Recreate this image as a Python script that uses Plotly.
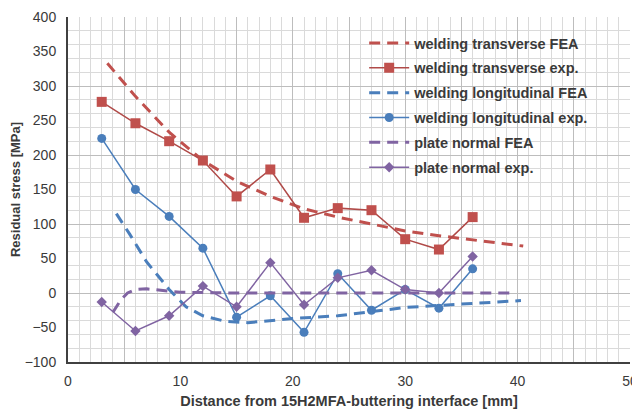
import plotly.graph_objects as go

# ---- data ----
x_exp = [3, 6, 9, 12, 15, 18, 21, 24, 27, 30, 33, 36]
trans_exp = [277, 246, 220, 192, 140, 179, 109, 123, 120, 78, 63, 110]
long_exp = [224, 150, 111, 65, -35, -4, -57, 28, -25, 5, -22, 35]
plate_exp = [-13, -55, -33, 10, -20, 44, -17, 22, 33, 5, 0, 53]

trans_fea_x = [3.5, 6, 9, 12, 15, 18, 21, 24, 27, 30, 33, 36, 40.5]
trans_fea_y = [333, 285, 233, 192, 162, 140, 122, 110, 100, 90, 83, 77, 68]

long_fea_x = [4.3, 5.5, 7, 9, 10.5, 12, 14, 16, 20, 24, 27, 30, 33, 36, 40.3]
long_fea_y = [115, 85, 45, 5, -20, -33, -41, -43, -37, -33, -27, -21, -18, -15, -11]

plate_fea_x = [4.0, 4.7, 5.3, 6, 7, 8, 10, 15, 20, 25, 30, 35, 39.3]
plate_fea_y = [-28, -10, 0, 5, 6, 4, 1, 0, 0, 0, 0, 0, 0]

RED = "#C0504D"
BLUE = "#4A7EBB"
PURPLE = "#8064A2"
DASH = "11px,7px"

fig = go.Figure()

fig.add_trace(go.Scatter(x=trans_fea_x, y=trans_fea_y, mode="lines",
                         name="welding transverse FEA", legendgroup="a",
                         line=dict(color=RED, width=3, dash=DASH)))
fig.add_trace(go.Scatter(x=x_exp, y=trans_exp, mode="lines+markers",
                         name="welding transverse exp.", legendgroup="b",
                         line=dict(color="#B04A48", width=1.5),
                         marker=dict(symbol="square", size=10, color=RED)))
fig.add_trace(go.Scatter(x=long_fea_x, y=long_fea_y, mode="lines",
                         name="welding longitudinal FEA", legendgroup="c",
                         line=dict(color=BLUE, width=3, dash=DASH)))
fig.add_trace(go.Scatter(x=x_exp, y=long_exp, mode="lines+markers",
                         name="welding longitudinal exp.", legendgroup="d",
                         line=dict(color=BLUE, width=1.5),
                         marker=dict(symbol="circle", size=9, color=BLUE)))
fig.add_trace(go.Scatter(x=plate_fea_x, y=plate_fea_y, mode="lines",
                         name="plate normal FEA", legendgroup="e",
                         line=dict(color=PURPLE, width=3, dash=DASH)))
fig.add_trace(go.Scatter(x=x_exp, y=plate_exp, mode="lines+markers",
                         name="plate normal exp.", legendgroup="f",
                         line=dict(color=PURPLE, width=1.5),
                         marker=dict(symbol="diamond", size=8, color=PURPLE)))

# dummy trace to activate overlay axes (darker major grid)
fig.add_trace(go.Scatter(x=[None], y=[None], xaxis="x2", yaxis="y2",
                         showlegend=False, hoverinfo="skip"))

FONT = "Liberation Sans, Arial, sans-serif"
TXT = "#3a3a3a"
LIGHT = "#DADADA"
DARK = "#BDBDBD"

# page body has an 8px margin, so the figure is sized/offset to compensate
fig.update_layout(
    width=632, height=402,
    margin=dict(l=60, r=10, t=9, b=48, autoexpand=False),
    paper_bgcolor="white", plot_bgcolor="white",
    font=dict(family=FONT, color=TXT),
    showlegend=True,
    legend=dict(x=0.527, y=0.971, xanchor="left", yanchor="top",
                bgcolor="rgba(255,255,255,0)", borderwidth=0,
                font=dict(family=FONT, size=14.5, color=TXT, weight="bold"),
                traceorder="grouped", tracegroupgap=3,
                itemwidth=40),
    xaxis=dict(range=[0, 50], dtick=10, tick0=0, showgrid=False, automargin=False,
               zeroline=False, showline=True, linecolor="#404040", linewidth=2,
               ticks="", tickfont=dict(size=14, color=TXT), ticklabelstandoff=5,
               minor=dict(dtick=1, showgrid=True, gridcolor=LIGHT, gridwidth=1),
               title=dict(text="<b>Distance from 15H2MFA-buttering interface [mm]</b>",
                          font=dict(size=14.5, color=TXT), standoff=8)),
    yaxis=dict(range=[-100, 400], dtick=50, tick0=0, showgrid=False, automargin=False,
               zeroline=False, showline=True, linecolor="#404040", linewidth=2,
               ticks="", tickfont=dict(size=14, color=TXT), ticklabelstandoff=7,
               minor=dict(dtick=20, tick0=0, showgrid=True, gridcolor=LIGHT, gridwidth=1),
               title=dict(text="<b>Residual stress [MPa]</b>",
                          font=dict(size=13, color=TXT), standoff=3)),
    xaxis2=dict(range=[0, 50], overlaying="x", dtick=5, tick0=0, automargin=False,
                showgrid=True, gridcolor=DARK, gridwidth=1,
                showticklabels=False, zeroline=False, ticks="", showline=False),
    yaxis2=dict(range=[-100, 400], overlaying="y", dtick=100, tick0=0, automargin=False,
                showgrid=True, gridcolor=DARK, gridwidth=1,
                showticklabels=False, zeroline=False, ticks="", showline=False),
    # white legend panel (covers the grid like the reference's legend box)
    shapes=[dict(type="rect", xref="paper", yref="paper",
                 x0=0.498, x1=0.961, y0=0.528, y1=0.965,
                 fillcolor="white", line=dict(width=0), layer="between")],
)

fig.write_html("out.html")
